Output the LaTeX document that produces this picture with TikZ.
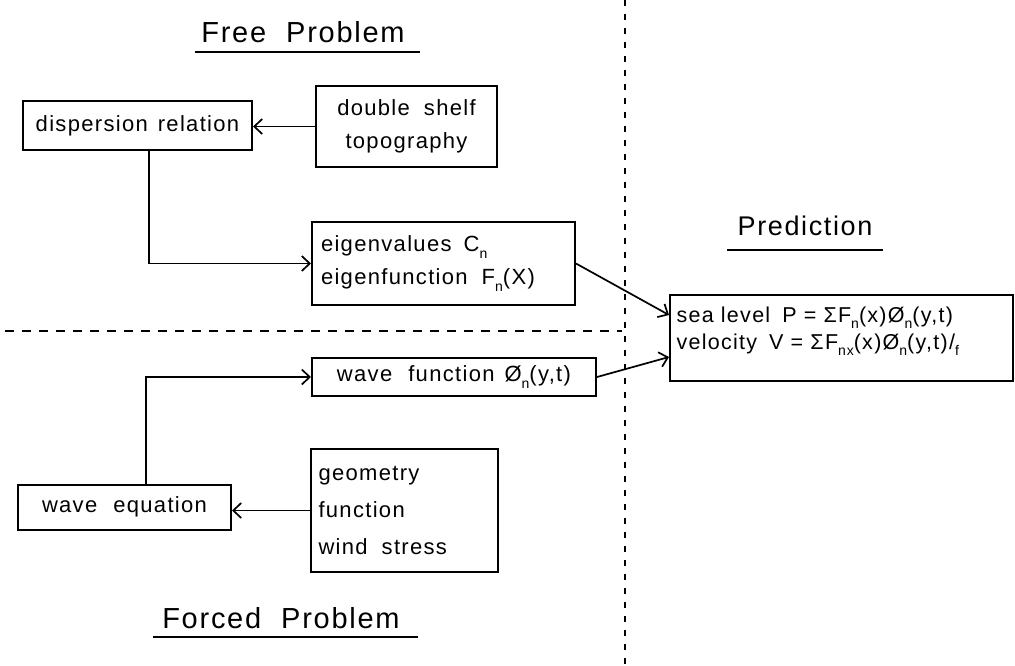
\documentclass[tikz,border=0pt]{standalone}
\usepackage{fontspec}
\setmainfont{Liberation Sans}[LetterSpace=6]
\usetikzlibrary{arrows.meta}
\newcommand\lowsub[1]{\raisebox{-0.28em}{\fontsize{14}{14}\selectfont #1}}
\begin{document}
\begin{tikzpicture}[x=1pt,y=-1pt,
  box/.style={draw, line width=2pt, inner sep=0pt, font=\fontsize{22}{33}\selectfont},
  arr/.style={line width=1.7pt, -{Straight Barb[length=8pt,width=15pt,line width=1.7pt]}},
  title/.style={font=\fontsize{29}{32}\selectfont},
  uline/.style={line width=1.8pt},
  divh/.style={line width=1.6pt, dash pattern=on 9pt off 8pt},
  divv/.style={line width=1.8pt, dash pattern=on 6pt off 8pt},
]
\useasboundingbox (0,0) rectangle (1015,665);

% titles
\node[title] (free) at (303,32) {Free\hspace{20pt}Problem};
\node[title] (forced) at (281,618) {Forced\hspace{20pt}Problem};
\node[title, font=\fontsize{27}{32}\selectfont] (predt) at (805,226) {Prediction};
\draw[uline] (195,52) -- (420,52);
\draw[uline] (153,637) -- (418,637);
\draw[uline] (727,250) -- (883,250);

% dividers
\draw[divv] (625,0) -- (625,665);
\draw[divh] (5,331) -- (622,331);

% boxes
\node[box, minimum width=229pt, minimum height=49pt] (disp) at (137.5,125.5)
  {dispersion\hspace{10pt}relation};
\node[box, minimum width=181pt, minimum height=81pt, align=center] (shelf) at (406.5,126.5)
  {double\hspace{14pt}shelf\\topography};
\node[box, minimum width=263pt, minimum height=83pt, align=left, text width=245pt] (eigen) at (443.5,263.5)
  {eigenvalues\hspace{12pt}C\lowsub{n}\\eigenfunction\hspace{14pt}F\lowsub{n}(X)};
\node[box, minimum width=284pt, minimum height=38pt] (wavef) at (454,377)
  {wave\hspace{16pt}function\hspace{10pt}Ø\lowsub{n}(y,t)};
\node[box, minimum width=213pt, minimum height=45pt] (weq) at (124.5,507)
  {wave\hspace{16pt}equation};
\node[box, minimum width=187pt, minimum height=123pt, align=left, text width=172pt, font=\fontsize{22}{37}\selectfont] (geo) at (404.5,510.5)
  {geometry\\function\\wind\hspace{14pt}stress};
\node[box, minimum width=343pt, minimum height=86pt, align=left, text width=330pt, font=\fontsize{21.5}{27}\selectfont] (pred) at (841.5,338)
  {sea level\hspace{12pt}P = ΣF\lowsub{n}(x)Ø\lowsub{n}(y,t)\\velocity\hspace{12pt}V = ΣF\lowsub{nx}(x)Ø\lowsub{n}(y,t)/\lowsub{f}\\[-8pt]\mbox{}};

% connectors
\draw[arr] (shelf.west) -- (shelf.west -| disp.east);
\draw[arr] ([xshift=11.5pt]disp.south) |- (eigen.west);
\draw[arr] (eigen.east) -- ([yshift=23pt]pred.west);
\draw[arr] ([xshift=21.5pt]weq.north) |- (wavef.west);
\draw[arr] (wavef.east) -- ([yshift=-19pt]pred.west);
\draw[arr] (geo.west) -- (geo.west -| weq.east);
\end{tikzpicture}
\end{document}
